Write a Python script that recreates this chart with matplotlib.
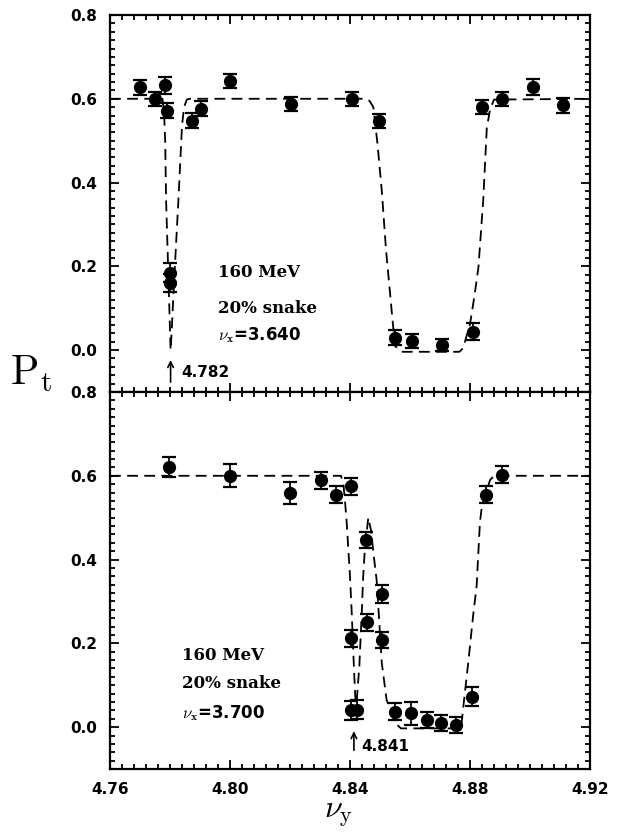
import matplotlib
matplotlib.use('Agg')
import matplotlib.pyplot as plt
from matplotlib.ticker import MultipleLocator

plt.rcParams['mathtext.fontset'] = 'cm'

# ---- upper panel (nu_x = 3.640) ----
x_top = [4.7700, 4.7750, 4.7783, 4.7791, 4.7800, 4.7800, 4.7872, 4.7902, 4.8000,
         4.8202, 4.8406, 4.8497, 4.8550, 4.8606, 4.8706, 4.8809,
         4.8839, 4.8906, 4.9009, 4.9111]
y_top = [0.628, 0.600, 0.632, 0.572, 0.185, 0.160, 0.548, 0.576, 0.642,
         0.587, 0.600, 0.547, 0.030, 0.022, 0.012, 0.044,
         0.580, 0.600, 0.628, 0.584]
e_top = [0.018, 0.017, 0.020, 0.018, 0.022, 0.022, 0.018, 0.018, 0.017,
         0.017, 0.017, 0.017, 0.017, 0.017, 0.015, 0.020,
         0.017, 0.017, 0.020, 0.017]

# fitted curve
cx_top = [4.7600, 4.7775, 4.7780, 4.7784, 4.7787, 4.7792, 4.7797, 4.7802, 4.7806,
          4.7812, 4.7820, 4.7828, 4.7835, 4.7840, 4.7847, 4.7856, 4.7865,
          4.8450, 4.8465, 4.8478, 4.8492, 4.8506, 4.8520, 4.8539, 4.8550, 4.8572,
          4.8765, 4.8777, 4.8800, 4.8815, 4.8828, 4.8844, 4.8856, 4.8867, 4.8880, 4.9200]
cy_top = [0.600, 0.600, 0.570, 0.500, 0.357, 0.240, 0.120, 0.000, 0.050,
          0.140, 0.250, 0.357, 0.460, 0.535, 0.580, 0.598, 0.600,
          0.600, 0.595, 0.580, 0.490, 0.380, 0.240, 0.093, 0.010, -0.004,
          -0.004, 0.005, 0.062, 0.130, 0.197, 0.357, 0.530, 0.575, 0.598, 0.600]

# ---- lower panel (nu_x = 3.700) ----
x_bot = [4.7798, 4.8000, 4.8200, 4.8302, 4.8353, 4.8402, 4.8402, 4.8422, 4.8402,
         4.8456, 4.8453, 4.8506, 4.8506, 4.8550, 4.8602, 4.8656, 4.8703, 4.8753,
         4.8806, 4.8853, 4.8906]
y_bot = [0.621, 0.600, 0.559, 0.589, 0.555, 0.575, 0.040, 0.042, 0.212,
         0.250, 0.447, 0.318, 0.208, 0.037, 0.033, 0.017, 0.010, 0.005,
         0.073, 0.555, 0.603]
e_bot = [0.024, 0.027, 0.026, 0.020, 0.020, 0.020, 0.022, 0.022, 0.020,
         0.020, 0.020, 0.022, 0.020, 0.020, 0.028, 0.020, 0.020, 0.020,
         0.022, 0.020, 0.020]

cx_bot = [4.7600, 4.8370, 4.8378, 4.8383, 4.8389, 4.8400, 4.8406, 4.8413, 4.8420,
          4.8425, 4.8431, 4.8439, 4.8444, 4.8450, 4.8461, 4.8470, 4.8478, 4.8489,
          4.8506, 4.8522, 4.8550, 4.8570, 4.8770, 4.8778, 4.8794, 4.8811, 4.8822,
          4.8833, 4.8840, 4.8853, 4.8867, 4.8880, 4.9200]
cy_bot = [0.600, 0.600, 0.580, 0.543, 0.488, 0.360, 0.270, 0.144, 0.035,
          0.088, 0.144, 0.270, 0.360, 0.430, 0.500, 0.470, 0.416, 0.350,
          0.153, 0.065, 0.010, -0.003, -0.003, 0.050, 0.153, 0.270, 0.336,
          0.488, 0.530, 0.560, 0.590, 0.600, 0.600]

fig = plt.figure(figsize=(6.26, 8.33), dpi=100)
ax1 = fig.add_axes([0.1757, 0.5294, 0.7668, 0.4526])
ax2 = fig.add_axes([0.1757, 0.0768, 0.7668, 0.4526], sharex=ax1)

tickfont = dict(family='DejaVu Sans', weight='bold', size=11)

for ax, xs, ys, es, cx, cy in [(ax1, x_top, y_top, e_top, cx_top, cy_top),
                               (ax2, x_bot, y_bot, e_bot, cx_bot, cy_bot)]:
    ax.plot(cx, cy, color='black', lw=1.3, dashes=(6, 3.5))
    ax.errorbar(xs, ys, yerr=es, fmt='o', color='black', ms=8.5,
                capsize=5, capthick=1.6, elinewidth=1.3)
    ax.set_xlim(4.76, 4.92)
    ax.set_ylim(-0.1, 0.8)
    ax.xaxis.set_major_locator(MultipleLocator(0.04))
    ax.xaxis.set_minor_locator(MultipleLocator(0.004))
    ax.yaxis.set_major_locator(MultipleLocator(0.2))
    ax.yaxis.set_minor_locator(MultipleLocator(0.02))
    ax.set_yticks([0.0, 0.2, 0.4, 0.6, 0.8])
    ax.tick_params(which='both', direction='in', top=True, right=True, width=1.3)
    ax.tick_params(which='major', length=6.5)
    ax.tick_params(which='minor', length=3.5)
    ax.tick_params(axis='y', pad=9)
    ax.tick_params(axis='x', pad=9)
    ax.set_yticklabels(['0.0', '0.2', '0.4', '0.6', '0.8'], fontdict=tickfont)
    for sp in ax.spines.values():
        sp.set_linewidth(1.6)

ax1.tick_params(labelbottom=False)
ax2.set_xticks([4.76, 4.80, 4.84, 4.88, 4.92])
ax2.set_xticklabels(['4.76', '4.80', '4.84', '4.88', '4.92'], fontdict=tickfont)

# annotations, upper panel
serifb = dict(family='DejaVu Serif', weight='bold', size=12)
ax1.text(4.7960, 0.185, '160 MeV', va='center', ha='left', fontdict=serifb)
ax1.text(4.7960, 0.100, '20% snake', va='center', ha='left', fontdict=serifb)
ax1.text(4.7960, 0.035, r'$\nu_\mathbf{x}$=3.640', va='center', ha='left',
         family='DejaVu Sans', weight='bold', size=12)
ax1.annotate('', xy=(4.7802, -0.017), xytext=(4.7802, -0.083),
             arrowprops=dict(arrowstyle='->', lw=1.2, color='black'))
ax1.text(4.7838, -0.054, '4.782', va='center', ha='left', fontdict=tickfont)

# annotations, lower panel
ax2.text(4.7840, 0.172, '160 MeV', va='center', ha='left', fontdict=serifb)
ax2.text(4.7840, 0.105, '20% snake', va='center', ha='left', fontdict=serifb)
ax2.text(4.7840, 0.033, r'$\nu_\mathbf{x}$=3.700', va='center', ha='left',
         family='DejaVu Sans', weight='bold', size=12)
ax2.annotate('', xy=(4.8413, -0.003), xytext=(4.8413, -0.062),
             arrowprops=dict(arrowstyle='->', lw=1.2, color='black'))
ax2.text(4.8437, -0.047, '4.841', va='center', ha='left', fontdict=tickfont)

fig.text(0.016, 0.538, r'$\mathrm{P_t}$', fontsize=30, ha='left', va='baseline')
fig.text(0.54, 0.019, r'$\nu_\mathrm{y}$', fontsize=23, ha='center', va='baseline')

fig.savefig('out.png', dpi=100)
